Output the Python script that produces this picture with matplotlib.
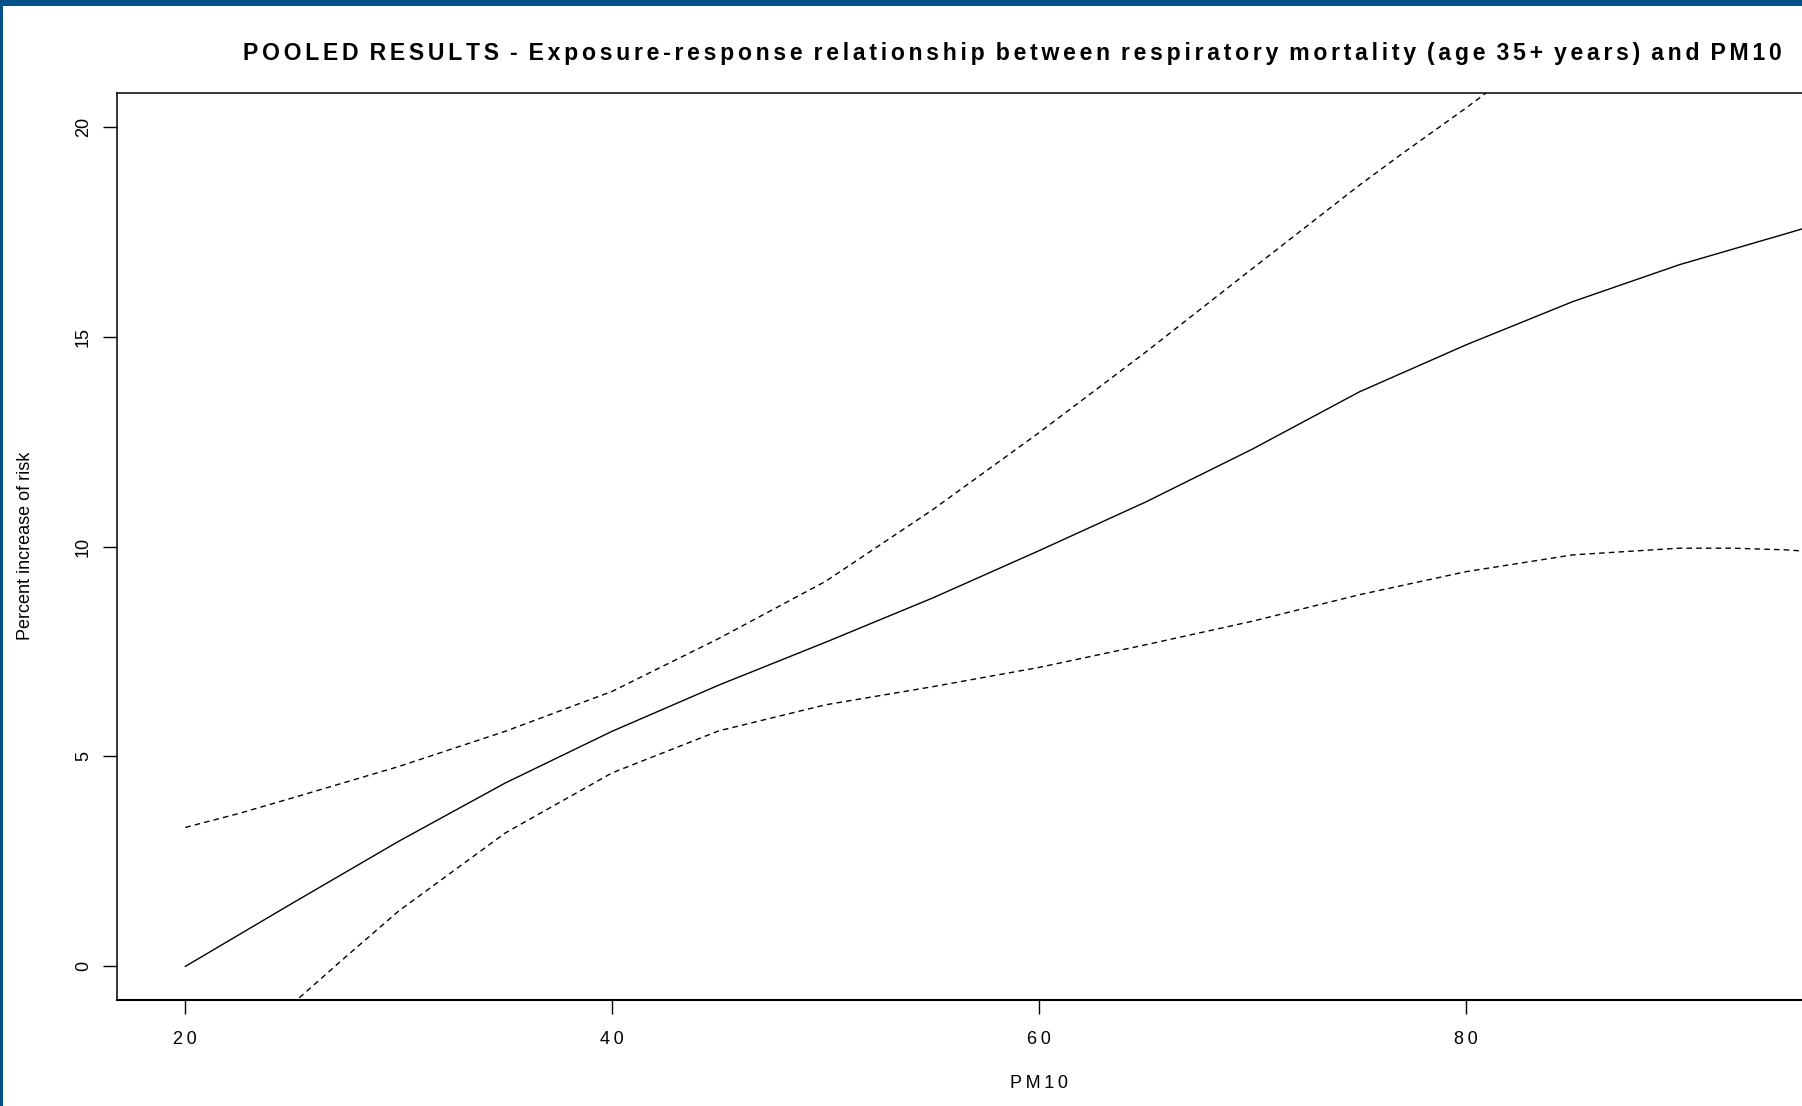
import matplotlib
matplotlib.use("Agg")
import matplotlib.pyplot as plt
from matplotlib.patches import Rectangle

# ---- data ----
pm10_mid = [20, 25, 30, 35, 40, 45, 50, 55, 60, 65, 70, 75, 80, 85, 90, 95, 97]
risk_mid = [0.0, 1.50, 2.98, 4.37, 5.60, 6.70, 7.72, 8.77, 9.90, 11.06, 12.32,
            13.68, 14.80, 15.83, 16.71, 17.45, 17.75]

pm10_up = [20, 22.5, 25, 30, 35, 40, 45, 50, 55, 60, 65, 70, 75, 77, 80, 82]
risk_up = [3.31, 3.64, 4.01, 4.76, 5.60, 6.55, 7.81, 9.17, 10.87, 12.71, 14.63,
           16.62, 18.60, 19.35, 20.44, 21.20]

pm10_lo = [25, 27.5, 30, 35, 40, 45, 50, 55, 60, 65, 70, 75, 80, 85, 90, 92.5, 95, 97]
risk_lo = [-0.90, 0.22, 1.32, 3.18, 4.61, 5.61, 6.23, 6.66, 7.12, 7.66, 8.22,
           8.85, 9.40, 9.80, 9.96, 9.96, 9.92, 9.85]

x_ticks = [20, 40, 60, 80]
y_ticks = [0, 5, 10, 15, 20]

title = "POOLED RESULTS - Exposure-response relationship between respiratory mortality (age 35+ years) and PM10"
xlabel = "PM10"
ylabel = "Percent increase of risk"

FAM = ["Liberation Sans", "DejaVu Sans"]
TS = "\u2009"   # thin space
HS = "\u200a"   # hair space


def spaced(s, gap=TS):
    words = s.split(" ")
    return (TS + " ").join(gap.join(w) for w in words)


W, H = 1802, 1106
fig = plt.figure(figsize=(W / 100, H / 100), dpi=100)
fig.patch.set_facecolor("white")

# blue frame (top and left)
blue = "#005189"
fig.add_artist(Rectangle((0, 1 - 6 / H), 1, 6 / H, transform=fig.transFigure,
                         facecolor=blue, edgecolor="none", zorder=10))
fig.add_artist(Rectangle((0, 0), 3 / W, 1, transform=fig.transFigure,
                         facecolor=blue, edgecolor="none", zorder=10))

left, right, top, bottom = 117, 1961, 93, 1000
ax = fig.add_axes([left / W, 1 - bottom / H, (right - left) / W, (bottom - top) / H])

dash = (0, (4.0, 3.0))
ax.plot(pm10_mid, risk_mid, color="black", lw=1.0, solid_joinstyle="round")
ax.plot(pm10_up, risk_up, color="black", lw=1.0, linestyle=dash)
ax.plot(pm10_lo, risk_lo, color="black", lw=1.0, linestyle=dash)

ax.set_xlim(16.8, 103.2)
ax.set_ylim(-0.8, 20.8)

ax.set_xticks(x_ticks)
ax.set_xticklabels([spaced(str(t)) for t in x_ticks], family=FAM, fontsize=13)
ax.set_yticks(y_ticks)
ax.set_yticklabels([str(t) for t in y_ticks], family=FAM, fontsize=13,
                   rotation=90, va="center")
ax.tick_params(axis="both", direction="out", length=10, width=1.0, color="black")
ax.tick_params(axis="x", pad=12)
ax.tick_params(axis="y", pad=8)

for sp in ax.spines.values():
    sp.set_linewidth(1.1)
    sp.set_color("black")
ax.spines["bottom"].set_linewidth(1.5)

# title: starts where the reference's does and fits inside the figure
t_left, t_right = 243, 1784
t = fig.text(t_left / W, 1 - 60 / H, spaced(title, HS + HS), family=FAM, fontsize=16.8,
             fontweight="bold", ha="left", va="baseline")
renderer = fig.canvas.get_renderer()
for _ in range(3):
    wpx = t.get_window_extent(renderer=renderer).width
    t.set_fontsize(t.get_fontsize() * (t_right - t_left) / wpx)

fig.text(1039 / W, 1 - 1083 / H, spaced(xlabel), family=FAM, fontsize=13,
         ha="center", va="center")
fig.text(26 / W, 1 - 546 / H, ylabel, family=FAM, fontsize=13, rotation=90,
         ha="center", va="center")

fig.savefig("out.png", dpi=100)
